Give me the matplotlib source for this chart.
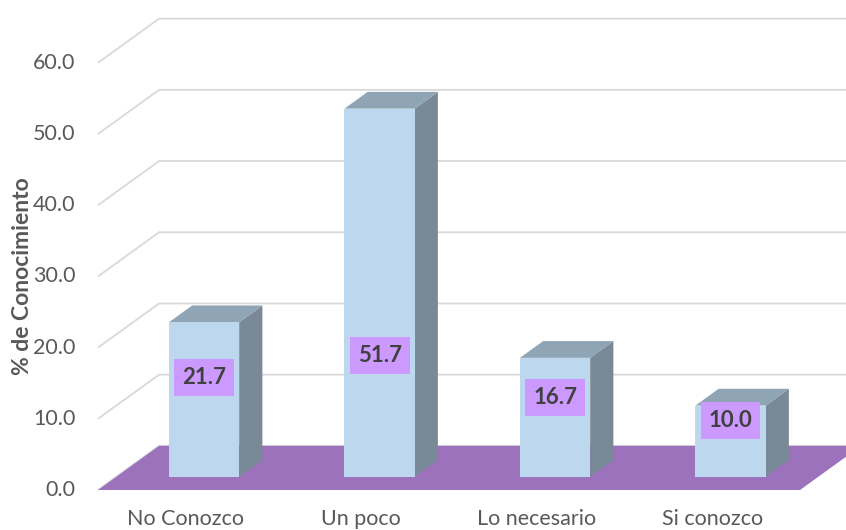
import matplotlib
matplotlib.use('Agg')
import matplotlib.pyplot as plt
from matplotlib.patches import Polygon

plt.rcParams['font.family'] = ['Lato', 'DejaVu Sans']

# data
categories = ['No Conozco', 'Un poco', 'Lo necesario', 'Si conozco']
percentages = [21.7, 51.7, 16.7, 10.0]
y_ticks = [0, 10, 20, 30, 40, 50, 60]

# layout (front plane: 1 unit per category, y in %)
DX, DY = 0.348, 6.2          # depth offset of the back wall
D0, D1 = 0.30, 0.68          # bar depth range (fraction of full depth)
BAR_W = 0.40
label_y = [13.9, 17.0, 11.2, 7.9]   # where excel put the value boxes

colors = {
    'grid': '#D9D9D9',
    'floor': '#9C72BD',
    'front': '#BDD7EE',
    'top': '#8FA4B5',
    'side': '#7A8998',
    'label_box': '#CC99FF',
    'label_txt': '#404040',
    'axis_txt': '#595959',
}

fig = plt.figure(figsize=(8.46, 5.3), dpi=100)
ax = fig.add_axes([0, 0, 1, 1])
ax.set_xlim(-98 / 175.5, (846 - 98) / 175.5)
ax.set_ylim(-40 / 7.12, (530 - 40) / 7.12)
ax.axis('off')

n = len(categories)

# side wall + back wall gridlines
for v in y_ticks:
    ax.plot([0, DX, n + DX + 1], [v, v + DY, v + DY], color=colors['grid'],
            lw=1.3, solid_capstyle='butt', zorder=1)
    ax.text(-0.13, v, f"{v:.1f}", ha='right', va='center', fontsize=15.5,
            color=colors['axis_txt'])

# floor
ax.add_patch(Polygon([(0, 0), (n, 0), (n + DX, DY), (DX, DY)],
                     closed=True, facecolor=colors['floor'], edgecolor='none', zorder=2))

# bars
for i, (cat, val) in enumerate(zip(categories, percentages)):
    x0 = i + 0.5 - BAR_W / 2
    x1 = i + 0.5 + BAR_W / 2
    fx0, fx1 = x0 + D0 * DX, x1 + D0 * DX
    bx0, bx1 = x0 + D1 * DX, x1 + D1 * DX
    fy, by = D0 * DY, D1 * DY

    front = [(fx0, fy), (fx1, fy), (fx1, fy + val), (fx0, fy + val)]
    side = [(fx1, fy), (bx1, by), (bx1, by + val), (fx1, fy + val)]
    top = [(fx0, fy + val), (fx1, fy + val), (bx1, by + val), (bx0, by + val)]
    ax.add_patch(Polygon(side, closed=True, facecolor=colors['side'], edgecolor='none', zorder=3))
    ax.add_patch(Polygon(top, closed=True, facecolor=colors['top'], edgecolor='none', zorder=3))
    ax.add_patch(Polygon(front, closed=True, facecolor=colors['front'], edgecolor='none', zorder=4))

    ax.text((fx0 + fx1) / 2, fy + label_y[i], f"{val:.1f}", ha='center', va='center',
            fontsize=16, fontweight='bold', color=colors['label_txt'], zorder=6,
            bbox=dict(boxstyle='square,pad=0.36', facecolor=colors['label_box'],
                      edgecolor='none'))

    ax.text(i + 0.5, -4.85, cat, ha='center', va='baseline', fontsize=15.5,
            color=colors['axis_txt'])

# axis title
ax.text(-0.43, 30, '% de Conocimiento', rotation=90, ha='center', va='center',
        fontsize=16.5, fontweight='bold', color=colors['axis_txt'])

fig.savefig('out.png', dpi=100)
